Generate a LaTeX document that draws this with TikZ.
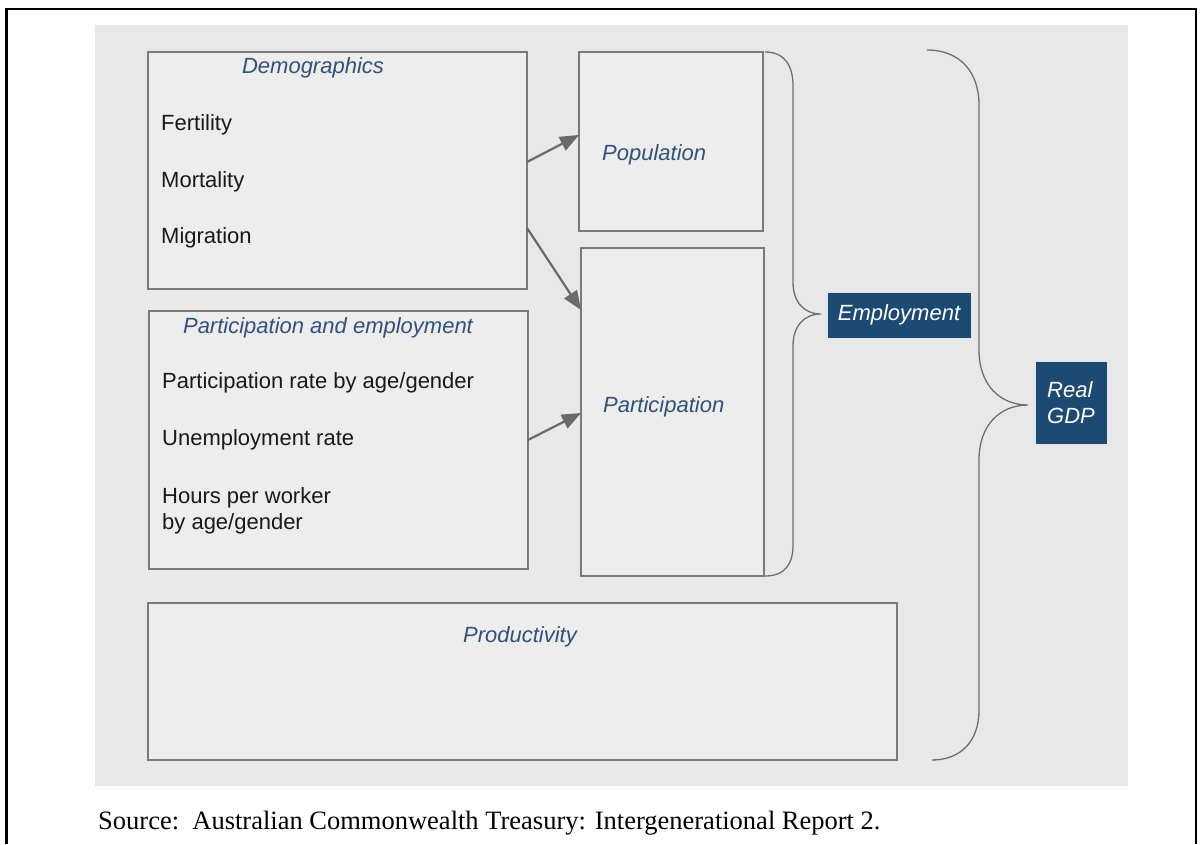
\documentclass[tikz,border=0pt]{standalone}
\usepackage{fontspec}
\setmainfont{Liberation Sans}
\newfontfamily\srcfont{Liberation Serif}
\usetikzlibrary{arrows.meta}
\definecolor{panel}{HTML}{E8E8E8}
\definecolor{boxfill}{HTML}{EDEDED}
\definecolor{boxline}{HTML}{7A7A7A}
\definecolor{titleblue}{HTML}{34507A}
\definecolor{navy}{HTML}{1D4A73}
\definecolor{arrowgray}{HTML}{6A6A6A}
\definecolor{bracegray}{HTML}{6E6E6E}
\tikzset{
  box/.style={draw=boxline, line width=1.3pt, fill=boxfill, anchor=north west, inner sep=0pt, outer sep=0pt},
  ttl/.style={font=\fontsize{22}{26}\selectfont\itshape, text=titleblue, inner sep=0pt},
  itm/.style={font=\fontsize{22}{26}\selectfont, text=black!90, anchor=west, inner sep=0pt, align=left},
  darkbox/.style={fill=navy, draw=white!85!navy, line width=1pt, font=\fontsize{22}{26}\selectfont\itshape, text=white, inner sep=0pt},
  arr/.style={draw=arrowgray, line width=2.2pt, -{Triangle[length=19pt,width=15pt]}},
  brace/.style={draw=bracegray, line width=1.3pt}
}
\begin{document}
\begin{tikzpicture}[x=1pt,y=-1pt]
\useasboundingbox (0,0) rectangle (1200,844);
% outer frame (open at bottom)
\draw[line width=2.6pt] (6.5,844) -- (6.5,9) -- (1196,9) -- (1196,844);
% grey panel
\fill[panel] (95,25) rectangle (1128,786);

% boxes
\node[box, minimum width=379pt, minimum height=237pt] (demo) at (148,52) {};
\node[box, minimum width=379pt, minimum height=258pt] (pe) at (149,311) {};
\node[box, minimum width=184pt, minimum height=179pt] (pop) at (579,52) {};
\node[box, minimum width=183pt, minimum height=328pt] (part) at (581,248) {};
\node[box, minimum width=749pt, minimum height=157pt] (prod) at (148,603) {};

% texts
\node[ttl] (tdemo) at (313,68) {Demographics};
\node[itm] (fert) at (161,125) {Fertility};
\node[itm] (mort) at (161,182) {Mortality};
\node[itm] (migr) at (161,238) {Migration};

\node[ttl] (tpe) at (328,328) {Participation and employment};
\node[itm] (prate) at (162,383) {Participation rate by age/gender};
\node[itm] (urate) at (162,440) {Unemployment rate};
\node[itm] (hours) at (162,511) {Hours per worker\\by age/gender};

\node[ttl, anchor=west] (tpop) at (602,155) {Population};
\node[ttl, anchor=west] (tpart) at (603,407) {Participation};
\node[ttl] (tprod) at (520,637) {Productivity};

\node[darkbox, minimum width=144pt, minimum height=46pt] (emp) at (899,315) {Employment};
\node[darkbox, minimum width=72pt, minimum height=83pt, align=left] (gdp) at (1071,403) {Real\\GDP};

% arrows
\draw[arr] ([yshift=8.5pt]demo.east) -- ([yshift=6.5pt]pop.west);
\draw[arr] ([yshift=-57.5pt]demo.east) -- ([yshift=102pt]part.west);
\draw[arr] (pe.east) -- ([yshift=-1pt]part.west);

% brace for Employment
\coordinate (b1top) at (765,52);
\coordinate (b1tip) at (821,314);
\coordinate (b1bot) at (765,576);
\draw[brace] (b1top) .. controls (785,52) and (793,66) .. (793,86)
  -- (793,282) .. controls (793,302) and (804,314) .. (b1tip)
  .. controls (804,314) and (793,326) .. (793,346)
  -- (793,545) .. controls (793,564) and (785,576) .. (b1bot);

% brace for Real GDP
\coordinate (b2top) at (927,50);
\coordinate (b2tip) at (1028,405);
\coordinate (b2bot) at (932,760);
\draw[brace] (b2top) .. controls (960,50) and (979,72) .. (979,105)
  -- (979,350) .. controls (979,385) and (1000,405) .. (b2tip)
  .. controls (1000,405) and (979,425) .. (979,460)
  -- (979,710) .. controls (979,742) and (960,760) .. (b2bot);

% source
\node[font=\srcfont\fontsize{26.5}{30}\selectfont, anchor=base west, inner sep=0pt] (src) at (98,829) {Source:\ \ Australian Commonwealth Treasury: Intergenerational Report 2.};
\end{tikzpicture}
\end{document}
